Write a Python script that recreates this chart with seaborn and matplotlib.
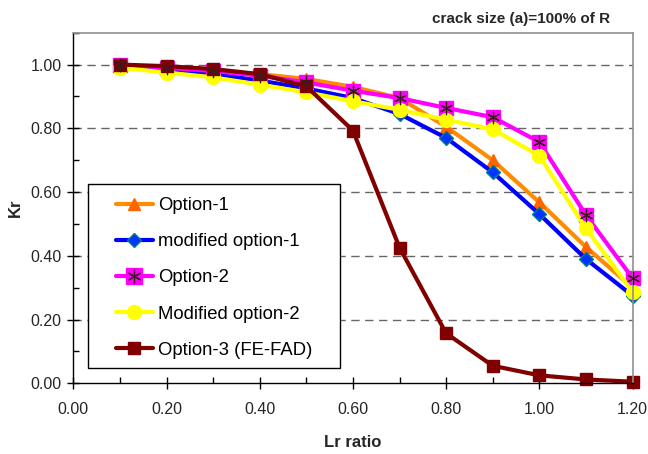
import matplotlib
matplotlib.use("Agg")
import matplotlib.pyplot as plt
from matplotlib.patches import Rectangle
import seaborn as sns
import pandas as pd
import numpy as np
from matplotlib.ticker import MultipleLocator, FormatStrFormatter
from matplotlib.lines import Line2D

lr = [0.1, 0.2, 0.3, 0.4, 0.5, 0.6, 0.7, 0.8, 0.9, 1.0, 1.1, 1.2]
option1 = [1.00, 0.99, 0.98, 0.97, 0.955, 0.93, 0.895, 0.805, 0.70, 0.568, 0.428, 0.30]
mod_option1 = [0.995, 0.985, 0.97, 0.95, 0.925, 0.895, 0.845, 0.77, 0.662, 0.531, 0.39, 0.275]
option2 = [1.00, 0.99, 0.98, 0.965, 0.944, 0.918, 0.895, 0.864, 0.835, 0.757, 0.528, 0.33]
mod_option2 = [0.99, 0.975, 0.96, 0.937, 0.913, 0.885, 0.858, 0.827, 0.797, 0.714, 0.486, 0.287]
option3 = [1.00, 0.995, 0.986, 0.97, 0.932, 0.793, 0.426, 0.157, 0.055, 0.025, 0.012, 0.005]

labels = ["Option-1", "modified option-1", "Option-2", "Modified option-2", "Option-3 (FE-FAD)"]
series = [option1, mod_option1, option2, mod_option2, option3]

sns.set_theme(style="white")
plt.rcParams['font.family'] = ['Liberation Sans', 'DejaVu Sans']

W, H = 648, 454
fig = plt.figure(figsize=(W / 100, H / 100), dpi=100)
ax = fig.add_axes([73.3 / W, 1 - 383.3 / H, 559.2 / W, 350.6 / H])

styles = [
    dict(color="#FF8C00", marker="^", mfc="#FF6600", mec="#FF6600", ms=9),
    dict(color="#0000FF", marker="D", mfc="#0033FF", mec="#008080", ms=7),
    dict(color="#FF00FF", marker="s", mfc="#FF00FF", mec="#FF00FF", ms=10),
    dict(color="#FFFF00", marker="o", mfc="#FFFF00", mec="#FFFF00", ms=10),
    dict(color="#800000", marker="s", mfc="#800000", mec="#800000", ms=9),
]

for lab, vals, st in zip(labels, series, styles):
    df = pd.DataFrame({"Lr": lr, "Kr": vals})
    sns.lineplot(data=df, x="Lr", y="Kr", ax=ax, color=st["color"], lw=3.0,
                 marker=st["marker"], markerfacecolor=st["mfc"],
                 markeredgecolor=st["mec"], markersize=st["ms"], markeredgewidth=1,
                 label=lab, legend=False, clip_on=False)
    if lab == "Option-2":
        sns.scatterplot(data=df, x="Lr", y="Kr", ax=ax, marker=(6, 2, 0), s=80,
                        color="#3a1a1a", linewidth=0.9, legend=False, zorder=5,
                        clip_on=False)

leg_handles = []
for lab, st in zip(labels, styles):
    if lab == "Option-2":
        h = (Line2D([], [], color=st["color"], lw=3.0, marker=st["marker"], mfc=st["mfc"],
                    mec=st["mec"], ms=st["ms"] + 1),
             Line2D([], [], ls="none", marker=(6, 2, 0), color="#3a1a1a", ms=10, mew=0.9))
    else:
        h = Line2D([], [], color=st["color"], lw=3.0, marker=st["marker"], mfc=st["mfc"],
                   mec=st["mec"], ms=st["ms"])
    leg_handles.append(h)

# legend frame
frame = Rectangle((88 / W, 1 - 367.5 / H), 252 / W, 183.5 / H, transform=fig.transFigure,
                  facecolor="white", edgecolor="black", lw=1.0, zorder=9, clip_on=False)
ax.add_patch(frame)

leg = ax.legend(leg_handles, labels, loc="upper left",
                bbox_to_anchor=(116 / W, 1 - 197 / H), bbox_transform=fig.transFigure,
                fontsize=13.3, frameon=False, borderaxespad=0, borderpad=0,
                labelspacing=1.04, handlelength=2.0, handletextpad=0.27)
for t in leg.get_texts():
    t.set_color("black")
leg.set_zorder(10)

ax.set_xlim(0, 1.2)
ax.set_ylim(0, 1.1)
ax.xaxis.set_major_locator(MultipleLocator(0.2))
ax.xaxis.set_minor_locator(MultipleLocator(0.1))
ax.yaxis.set_minor_locator(MultipleLocator(0.1))
ax.xaxis.set_major_formatter(FormatStrFormatter("%.2f"))
ax.yaxis.set_major_formatter(FormatStrFormatter("%.2f"))
ax.set_yticks([0, 0.2, 0.4, 0.6, 0.8, 1.0])

for y in [0.2, 0.4, 0.6, 0.8, 1.0]:
    ax.axhline(y, color="0.4", lw=1.0, ls=(0, (6, 4)), zorder=0)

ax.tick_params(axis="both", which="major", direction="inout", length=9, width=1,
               color="black", labelsize=11.5, pad=4, left=True, bottom=True)
ax.tick_params(axis="x", which="major", pad=9)
ax.tick_params(axis="both", which="minor", direction="in", length=4, width=1,
               color="black", bottom=True, left=True)

for s in ["left", "bottom"]:
    ax.spines[s].set_color("black")
    ax.spines[s].set_linewidth(1.0)
for s in ["top", "right"]:
    ax.spines[s].set_color("#909090")
    ax.spines[s].set_linewidth(1.2)

ax.set_xlabel("Lr ratio", fontsize=12, fontweight="bold", labelpad=13)
ax.set_ylabel("Kr", fontsize=12, fontweight="bold")
ax.yaxis.set_label_coords(23 / W, 1 - 208 / H, transform=fig.transFigure)
fig.text(521 / W, 1 - 19 / H, "crack size (a)=100% of R", fontsize=11,
         fontweight="bold", ha="center", va="center")

fig.savefig("out.png", dpi=100)
